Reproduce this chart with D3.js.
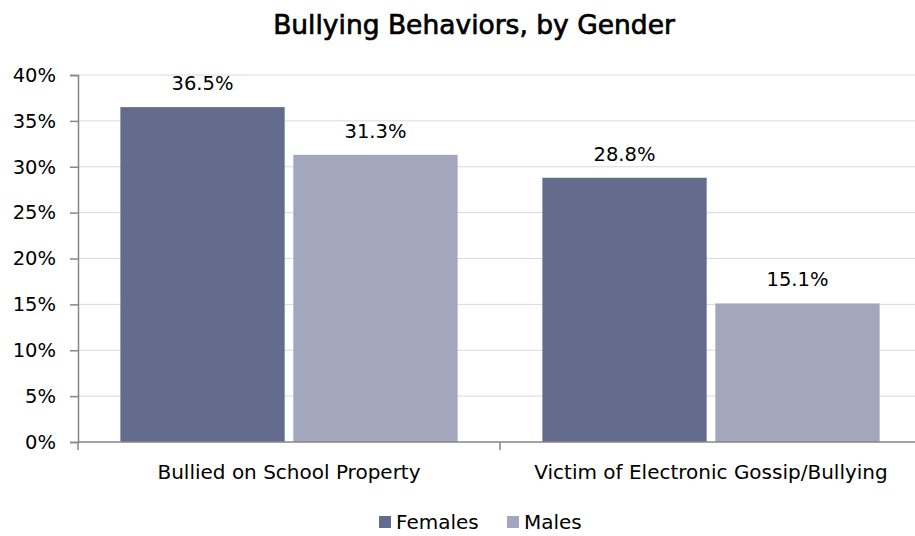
<!DOCTYPE html>
<html><head><meta charset="utf-8">
<script src="https://cdn.jsdelivr.net/npm/d3@7"></script>
<style>body{margin:0;background:#fff;} text{font-family:"DejaVu Sans",sans-serif;}</style>
</head><body>
<svg id="c" width="915" height="536"></svg>
<script>
const categories = ["Bullied on School Property", "Victim of Electronic Gossip/Bullying"];
const seriesNames = ["Females", "Males"];
const females = [36.5, 28.8];
const males = [31.3, 15.1];
const yTicks = [0, 5, 10, 15, 20, 25, 30, 35, 40];
const colors = ["#646C8E", "#A2A7BD"];

const svg = d3.select("#c");
const m = {l: 78, r: -7, t: 75, b: 94};
const W = 915, H = 536;
const FONT = "DejaVu Sans, sans-serif";
const x0 = d3.scaleBand().domain(categories).range([m.l, W - m.r]).paddingInner(0).paddingOuter(0);
const x1 = d3.scaleBand().domain(seriesNames).range([0, x0.bandwidth()]).paddingInner(0.05).paddingOuter(0.245);
const y = d3.scaleLinear().domain([0, 40]).range([H - m.b, m.t]);

svg.append("text").attr("x", 474).attr("y", 34).attr("text-anchor", "middle")
  .attr("font-size", 26.5).attr("fill", "#000").attr("stroke", "#000").attr("stroke-width", 0.7)
  .text("Bullying Behaviors, by Gender");

// grid
svg.append("g").selectAll("line").data(yTicks.filter(d => d > 0)).join("line")
  .attr("x1", m.l).attr("x2", W).attr("y1", d => y(d)).attr("y2", d => y(d))
  .attr("stroke", "#d9d9d9").attr("stroke-width", 1);

const data = categories.map((c, i) => ({c, vals: [females[i], males[i]]}));
const g = svg.append("g");
data.forEach(d => {
  d.vals.forEach((v, j) => {
    const xx = x0(d.c) + x1(seriesNames[j]);
    g.append("rect").attr("x", xx).attr("y", y(v)).attr("width", x1.bandwidth())
      .attr("height", y(0) - y(v)).attr("fill", colors[j]);
    g.append("text").attr("x", xx + x1.bandwidth() / 2).attr("y", y(v) - 17)
      .attr("text-anchor", "middle").attr("font-size", 19.5).attr("fill", "#000")
      .text(v.toFixed(1) + "%");
  });
});

// y axis
const ya = svg.append("g").attr("transform", `translate(${m.l},0)`)
  .call(d3.axisLeft(y).tickValues(yTicks).tickFormat(d => d + "%").tickSize(8).tickPadding(14));
ya.select(".domain").attr("stroke", "#868686").attr("stroke-width", 1.5);
ya.selectAll(".tick line").attr("stroke", "#868686").attr("stroke-width", 1.5);
ya.selectAll("text").attr("font-size", 19.5).attr("fill", "#000").style("font-family", FONT);

// x axis
const xa = svg.append("g").attr("transform", `translate(0,${y(0)})`);
xa.append("line").attr("x1", m.l).attr("x2", W).attr("stroke", "#868686").attr("stroke-width", 1.5);
const bounds = [x0.range()[0], x0(categories[1])];
xa.selectAll(".tk").data(bounds).join("line").attr("class", "tk")
  .attr("x1", d => d).attr("x2", d => d).attr("y1", 0).attr("y2", 8)
  .attr("stroke", "#868686").attr("stroke-width", 1.5);
xa.selectAll(".lbl").data(categories).join("text").attr("class", "lbl")
  .attr("x", d => x0(d) + x0.bandwidth() / 2).attr("y", 37)
  .attr("text-anchor", "middle").attr("font-size", 20).attr("fill", "#000").text(d => d);

// legend
const leg = svg.append("g");
const lx = [379, 507];
seriesNames.forEach((s, i) => {
  leg.append("rect").attr("x", lx[i]).attr("y", 516).attr("width", 12).attr("height", 12).attr("fill", colors[i]);
  leg.append("text").attr("x", lx[i] + 17).attr("y", 529).attr("font-size", 20).attr("fill", "#000").text(s);
});
</script>
</body></html>
